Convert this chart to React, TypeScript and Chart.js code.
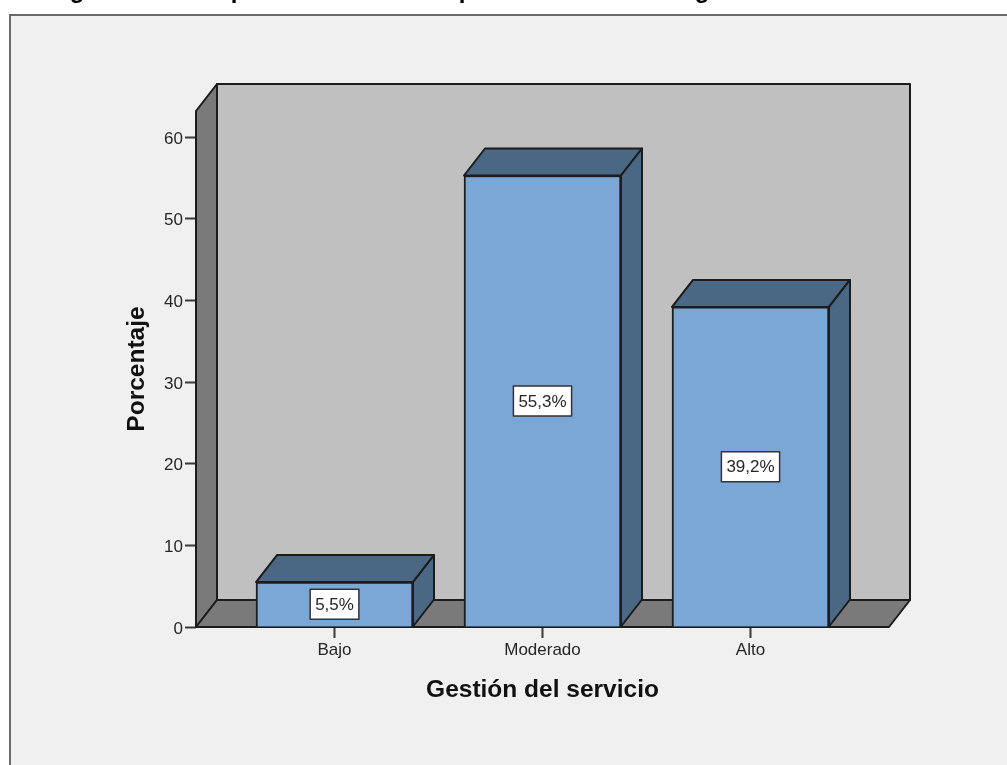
import React, { useEffect, useRef } from "react";
import { Chart, registerables } from "chart.js";

Chart.register(...registerables);

const categories = ["Bajo", "Moderado", "Alto"];
const percentages = [5.5, 55.3, 39.2];
const valueLabels = ["5,5%", "55,3%", "39,2%"];
const yTickStep = 10;
const yAxisMax = 63.2;
const xAxisRange = [-0.6659, 2.6659];
const clippedHeadingGlyphs = [
  { glyph: "g", x: 77 },
  { glyph: "p", x: 238 },
  { glyph: "p", x: 466 },
  { glyph: "g", x: 702 },
];

const COLORS = {
  page: "#ffffff",
  panel: "#f0f0f0",
  frame: "#6a6a6a",
  backWall: "#c0c0c0",
  sideWall: "#7a7a7a",
  barFront: "#7aa7d6",
  barShade: "#4a6783",
  line: "#1c1c1c",
  text: "#262626",
};

const DEPTH_X = 21;
const DEPTH_Y = 27;
const FONT = "'Liberation Sans', Arial, sans-serif";

function polygon(ctx: CanvasRenderingContext2D, pts: number[][], fill: string) {
  ctx.beginPath();
  pts.forEach(([x, y], i) => (i ? ctx.lineTo(x, y) : ctx.moveTo(x, y)));
  ctx.closePath();
  ctx.fillStyle = fill;
  ctx.fill();
  ctx.lineWidth = 2;
  ctx.lineJoin = "round";
  ctx.strokeStyle = COLORS.line;
  ctx.stroke();
}

// Page panel behind the whole chart, with the tail of the heading cut off by the top edge.
const panelPlugin = {
  id: "panel",
  beforeDraw(chart: any) {
    const { ctx, width, height } = chart;
    ctx.save();
    ctx.fillStyle = COLORS.page;
    ctx.fillRect(0, 0, width, height);
    ctx.fillStyle = COLORS.panel;
    ctx.fillRect(10, 15, width - 10, height - 15);
    ctx.strokeStyle = COLORS.frame;
    ctx.lineWidth = 2;
    ctx.beginPath();
    ctx.moveTo(10, height);
    ctx.lineTo(10, 15);
    ctx.lineTo(width, 15);
    ctx.stroke();
    ctx.fillStyle = "#000";
    ctx.font = `bold 24px ${FONT}`;
    ctx.textAlign = "center";
    ctx.textBaseline = "alphabetic";
    clippedHeadingGlyphs.forEach((h) => ctx.fillText(h.glyph, h.x, -2));
    ctx.restore();
  },
};

// Box around the plot: back wall, left wall and floor, offset by the depth vector.
const wallsPlugin = {
  id: "walls",
  beforeDatasetsDraw(chart: any) {
    const { ctx } = chart;
    const { left, right } = chart.scales.x;
    const top = chart.scales.y.getPixelForValue(yAxisMax);
    const bottom = chart.scales.y.getPixelForValue(0);
    ctx.save();
    polygon(
      ctx,
      [
        [left + DEPTH_X, top - DEPTH_Y],
        [right + DEPTH_X, top - DEPTH_Y],
        [right + DEPTH_X, bottom - DEPTH_Y],
        [left + DEPTH_X, bottom - DEPTH_Y],
      ],
      COLORS.backWall
    );
    polygon(
      ctx,
      [
        [left, top],
        [left + DEPTH_X, top - DEPTH_Y],
        [left + DEPTH_X, bottom - DEPTH_Y],
        [left, bottom],
      ],
      COLORS.sideWall
    );
    polygon(
      ctx,
      [
        [left, bottom],
        [left + DEPTH_X, bottom - DEPTH_Y],
        [right + DEPTH_X, bottom - DEPTH_Y],
        [right, bottom],
      ],
      COLORS.sideWall
    );
    ctx.restore();
  },
  // Top and side faces of each bar, then its boxed value label.
  afterDatasetsDraw(chart: any) {
    const { ctx } = chart;
    const meta = chart.getDatasetMeta(0);
    ctx.save();
    meta.data.forEach((bar: any, i: number) => {
      const l = bar.x - bar.width / 2;
      const r = bar.x + bar.width / 2;
      polygon(
        ctx,
        [
          [l, bar.y],
          [l + DEPTH_X, bar.y - DEPTH_Y],
          [r + DEPTH_X, bar.y - DEPTH_Y],
          [r, bar.y],
        ],
        COLORS.barShade
      );
      polygon(
        ctx,
        [
          [r, bar.y],
          [r + DEPTH_X, bar.y - DEPTH_Y],
          [r + DEPTH_X, bar.base - DEPTH_Y],
          [r, bar.base],
        ],
        COLORS.barShade
      );
      const cy = (bar.y + bar.base) / 2;
      ctx.font = `17px ${FONT}`;
      const w = ctx.measureText(valueLabels[i]).width + 10;
      const h = 30;
      ctx.fillStyle = "#ffffff";
      ctx.fillRect(bar.x - w / 2, cy - h / 2, w, h);
      ctx.strokeStyle = "#333";
      ctx.lineWidth = 1.5;
      ctx.strokeRect(bar.x - w / 2, cy - h / 2, w, h);
      ctx.fillStyle = COLORS.text;
      ctx.textAlign = "center";
      ctx.textBaseline = "middle";
      ctx.fillText(valueLabels[i], bar.x, cy + 1);
    });
    ctx.restore();
  },
};

export default function App() {
  const ref = useRef<HTMLCanvasElement>(null);

  useEffect(() => {
    const chart = new Chart(ref.current!, {
      type: "bar",
      data: {
        datasets: [
          {
            data: percentages.map((y, x) => ({ x, y })),
            backgroundColor: COLORS.barFront,
            borderColor: COLORS.line,
            borderWidth: 2,
            barThickness: 157,
          },
        ],
      },
      options: {
        animation: false,
        responsive: false,
        events: [],
        layout: { padding: { top: 111, right: 118, left: 0, bottom: 0 } },
        plugins: { legend: { display: false }, tooltip: { enabled: false } },
        scales: {
          x: {
            type: "linear",
            offset: false,
            min: xAxisRange[0],
            max: xAxisRange[1],
            afterBuildTicks(scale: any) {
              scale.ticks = categories.map((_, value) => ({ value }));
            },
            afterFit(scale: any) {
              scale.height = 138;
            },
            border: { display: false },
            grid: {
              offset: false,
              drawOnChartArea: false,
              drawTicks: true,
              tickLength: 11,
              tickColor: "#3a3a3a",
              tickWidth: 2,
            },
            ticks: {
              autoSkip: false,
              maxRotation: 0,
              padding: 2,
              color: COLORS.text,
              font: { family: FONT, size: 17 },
              callback: (v: any) => categories[v as number],
            },
            title: {
              display: true,
              text: "Gestión del servicio",
              color: "#111",
              padding: { top: 0, bottom: 60.4 },
              font: { family: FONT, size: 24.5, weight: "bold" },
            },
          },
          y: {
            min: 0,
            max: yAxisMax,
            afterFit(scale: any) {
              scale.width = 196;
            },
            border: { display: false },
            grid: {
              drawOnChartArea: false,
              tickLength: 11,
              tickColor: "#3a3a3a",
              tickWidth: 2,
            },
            ticks: {
              stepSize: yTickStep,
              includeBounds: false,
              padding: 2,
              labelOffset: 2,
              color: COLORS.text,
              font: { family: FONT, size: 17 },
            },
            title: {
              display: true,
              text: "Porcentaje",
              color: "#111",
              padding: { top: 122.3, bottom: 0 },
              font: { family: FONT, size: 24.5, weight: "bold" },
            },
          },
        },
      },
      plugins: [panelPlugin, wallsPlugin],
    } as any);
    return () => chart.destroy();
  }, []);

  return (
    <canvas
      ref={ref}
      width={1007}
      height={765}
      style={{ position: "absolute", left: 0, top: 0, display: "block" }}
    />
  );
}
